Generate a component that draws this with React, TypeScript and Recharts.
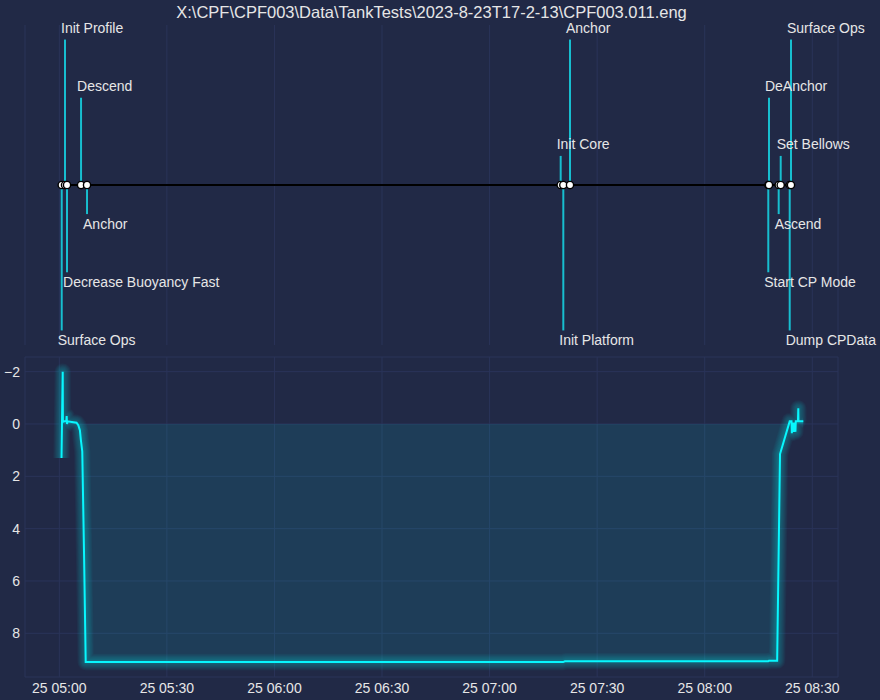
import React from 'react';
import {
  ComposedChart,
  Line,
  Area,
  Scatter,
  XAxis,
  YAxis,
  CartesianGrid,
} from 'recharts';

// event log (minutes after 05:00, stem level)
const eventNames = [
  'Surface Ops',
  'Init Profile',
  'Decrease Buoyancy Fast',
  'Descend',
  'Anchor',
  'Init Core',
  'Init Platform',
  'Anchor',
  'Start CP Mode',
  'DeAnchor',
  'Ascend',
  'Set Bellows',
  'Dump CPData',
  'Surface Ops',
];
const eventTimes = [0.67, 1.59, 2.15, 6.06, 7.73, 139.83, 140.56, 142.43, 197.73, 197.92, 200.63, 201.19, 203.7, 204.06];
const eventLevels = [-5, 5, -3, 3, -1, 1, -5, 5, -3, 3, -1, 1, -5, 5];

// depth trace (minutes after 05:00, depth)
const depthTimes = [
  0.61, 0.75, 0.95, 1.0, 1.4, 1.95, 2.05, 2.15, 2.3, 3.5, 4.8, 5.3, 5.75, 6.0, 6.4, 6.9, 7.36,
  9.0, 60.0, 140.5, 141.0, 197.7, 197.9, 200.2,
  201.0, 203.7, 204.2, 204.3, 204.5, 204.8, 205.1, 205.3, 205.4, 206.0, 206.1, 206.15, 207.5,
];
const depthValues = [
  1.3, -0.1, -2.0, -0.08, -0.1, -0.1, -0.3, 0.0, -0.1, -0.08, -0.05, 0.05, 0.25, 0.6, 1.05, 5.0, 9.1,
  9.1, 9.1, 9.1, 9.07, 9.07, 9.05, 9.05,
  1.15, -0.1, -0.1, 0.35, -0.05, 0.3, -0.05, 0.3, -0.1, -0.1, -0.6, -0.1, -0.1,
];

const xTicks = [0, 30, 60, 90, 120, 150, 180, 210];
const depthTicks = [-2, 0, 2, 4, 6, 8];

const TITLE = 'X:\\CPF\\CPF003\\Data\\TankTests\\2023-8-23T17-2-13\\CPF003.011.eng';
const BG = '#212946';
const GRID = '#2A3459';
const TEXT = '#e6e6e6';
const CYAN = '#08F7FE';
const STEM = '#17becf';
const FONT = '"Liberation Sans", Arial, sans-serif';

const eventRows = eventNames.map((name, i) => ({ name, t: eventTimes[i], level: eventLevels[i], base: 0 }));
const depthRows = depthTimes.map((t, i) => ({ t, depth: depthValues[i] }));

const glowWidths = Array.from({ length: 10 }, (_, i) => 2 + 1.46 * (i + 1));

const timeLabel = (m: number) => {
  const total = 5 * 60 + m;
  const h = Math.floor(total / 60);
  const mm = total % 60;
  return `25 ${String(h).padStart(2, '0')}:${String(mm).padStart(2, '0')}`;
};

const EventLabel = (props: any) => {
  const { cx, cy, payload } = props;
  const up = payload.level > 0;
  return (
    <text x={cx - 4} y={up ? cy - 6.5 : cy + 15} fill={TEXT} fontSize={14} fontFamily={FONT}>
      {payload.name}
    </text>
  );
};

const App: React.FC = () => {
  return (
    <div
      style={{
        position: 'absolute',
        left: 0,
        top: 0,
        width: 880,
        height: 700,
        background: BG,
        fontFamily: FONT,
        overflow: 'hidden',
      }}
    >
      <div
        style={{
          position: 'absolute',
          left: 25,
          top: 2,
          width: 813,
          textAlign: 'center',
          color: TEXT,
          fontSize: 16.5,
          lineHeight: '20px',
          whiteSpace: 'nowrap',
        }}
      >
        {TITLE}
      </div>

      <div style={{ position: 'absolute', left: 0, top: 0 }}>
        {/* no allowDataOverflow here, so the labels are not clipped */}
        <ComposedChart width={880} height={350} data={eventRows} margin={{ top: 25, right: 42, bottom: 5, left: 25 }}>
          <CartesianGrid stroke={GRID} horizontal={false} />
          <XAxis dataKey="t" type="number" domain={[-9.57, 217.17]} ticks={xTicks} hide />
          <YAxis type="number" domain={[-5.5, 5.5]} ticks={[-5.5, 0, 5.5]} hide />
          {eventRows.map((e, i) => (
            <Line
              key={`stem-${i}`}
              data={[
                { t: e.t, y: 0 },
                { t: e.t, y: e.level },
              ]}
              dataKey="y"
              stroke={STEM}
              strokeWidth={2}
              dot={false}
              activeDot={false}
              isAnimationActive={false}
            />
          ))}
          <Line
            dataKey="base"
            stroke="#000"
            strokeWidth={2}
            dot={{ r: 3.6, fill: '#fff', stroke: '#000', strokeWidth: 1.4 }}
            activeDot={false}
            isAnimationActive={false}
          />
          <Scatter dataKey="level" shape={<EventLabel />} isAnimationActive={false} />
        </ComposedChart>
      </div>

      <div style={{ position: 'absolute', left: 0, top: 350 }}>
        <ComposedChart width={880} height={350} data={depthRows} margin={{ top: 7, right: 42, bottom: 0, left: 0 }}>
          <CartesianGrid stroke={GRID} />
          <XAxis
            dataKey="t"
            type="number"
            domain={[-9.57, 217.17]}
            ticks={xTicks}
            tickFormatter={timeLabel}
            allowDataOverflow
            height={23}
            axisLine={false}
            tickLine={false}
            tickSize={0}
            tickMargin={6}
            tick={{ fill: TEXT, fontSize: 14 }}
          />
          <YAxis
            type="number"
            reversed
            domain={[-2.56, 9.67]}
            ticks={depthTicks}
            allowDataOverflow
            width={25}
            axisLine={false}
            tickLine={false}
            tickSize={0}
            tickMargin={5}
            tickFormatter={(v: number) => (v < 0 ? `\u2212${-v}` : `${v}`)}
            tick={{ fill: TEXT, fontSize: 14 }}
          />
          <Area
            dataKey="depth"
            type="linear"
            baseValue={0}
            stroke="none"
            fill={CYAN}
            fillOpacity={0.1}
            activeDot={false}
            isAnimationActive={false}
          />
          {glowWidths.map((w, i) => (
            <Line
              key={`glow-${i}`}
              dataKey="depth"
              type="linear"
              stroke={CYAN}
              strokeWidth={w}
              strokeOpacity={0.03}
              strokeLinejoin="round"
              dot={false}
              activeDot={false}
              isAnimationActive={false}
            />
          ))}
          <Line
            dataKey="depth"
            type="linear"
            stroke={CYAN}
            strokeWidth={2}
            dot={false}
            activeDot={false}
            isAnimationActive={false}
          />
        </ComposedChart>
      </div>
    </div>
  );
};

export default App;
